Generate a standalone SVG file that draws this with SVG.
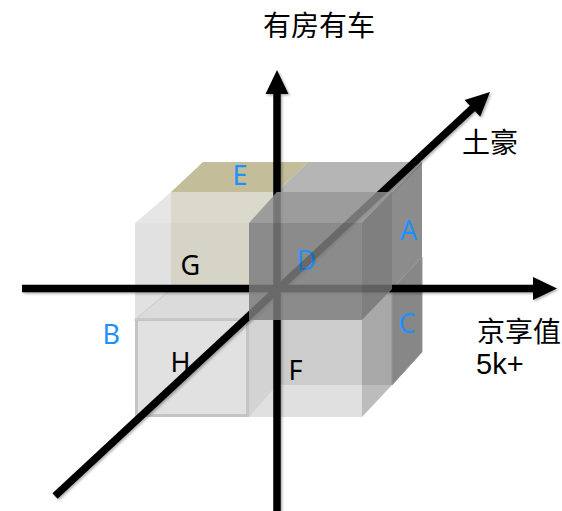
<svg xmlns="http://www.w3.org/2000/svg" width="562" height="511" viewBox="0 0 562 511">
<style>
  .lbl{font-family:"Noto Sans","Open Sans","DejaVu Sans",sans-serif;font-size:27px}
  .blue{fill:#1e90ff}
  .blk{fill:#000}
  .cjk{font-family:"Noto Sans CJK SC","Noto Sans",sans-serif;font-size:28px;fill:#000}
  .num{font-family:"Liberation Sans","Noto Sans",sans-serif;font-size:29px;fill:#000}
  .ax{stroke:#000;stroke-width:7.5;fill:none}
  .ah{fill:#000}
</style>
<defs>
  <filter id="sh" filterUnits="userSpaceOnUse" x="0" y="0" width="562" height="511">
    <feDropShadow dx="1.5" dy="1.5" stdDeviation="1.2" flood-color="#000" flood-opacity="0.3"/>
  </filter>
  <mask id="dm" maskUnits="userSpaceOnUse" x="0" y="0" width="562" height="511">
    <path fill="#fff" fill-rule="evenodd" d="M0,0H562V511H0Z M249,223L277,192L392,192L392,289L362,320L249,320Z"/>
    <path fill="#fff" fill-opacity="0.24" d="M249,223L277,192L392,192L392,289L362,320L249,320Z"/>
  </mask>
</defs>
<rect width="562" height="511" fill="#fff"/>

<g id="E">
  <polygon points="171,192 203,162 308,162 277,192" fill="#c4bd99"/>
  <rect x="171" y="192" width="106" height="97" fill="#e3dbbd"/>
  <text class="lbl blue" x="232.6" y="185">E</text>
</g>
<g id="A">
  <polygon points="277,192 308,162 422,162 392,192" fill="#b5b5b5"/>
  <polygon points="392,192 422,162 422,257 392,289" fill="#8c8c8c"/>
  <rect x="277" y="192" width="115" height="97" fill="#8c8c8c"/>
  <text class="lbl blue" x="400" y="240">A</text>
</g>
<g id="B">
  <text class="lbl blue" x="102.6" y="344">B</text>
</g>
<g id="C">
  <rect x="277" y="289" width="115" height="96" fill="#cccccc"/>
  <polygon points="392,289 422,257 422,352 392,385" fill="#878787" stroke="#959595" stroke-width="1"/>
  <text class="lbl blue" x="398.5" y="333">C</text>
</g>
<g id="H">
  <polygon points="249,320 277,289 277,385 249,417" fill="#dedede"/>
  <polygon points="135,320 171,289 277,289 249,320" fill="#f0f0f0" stroke="#d2d2d2" stroke-width="1.2"/>
  <rect x="136.5" y="319.5" width="111" height="96" fill="#e1e1e1" stroke="#c4c4c4" stroke-width="3"/>
  <text class="lbl blk" x="170.6" y="372">H</text>
</g>
<g id="F">
  <rect x="249" y="320" width="113" height="97" fill="#cbcbcb" fill-opacity="0.6"/>
  <polygon points="362,320 392,289 392,385 362,417" fill="#8f8f8f" fill-opacity="0.6"/>
  <text class="lbl blk" x="288.6" y="380">F</text>
</g>
<g id="G">
  <polygon points="135,223 171,192 277,192 249,223" fill="#d5d5d5" fill-opacity="0.6"/>
  <rect x="135" y="223" width="114" height="97" fill="#cdcdcd" fill-opacity="0.6"/>
  <text class="lbl blk" x="180.5" y="275">G</text>
</g>
<g id="D">
  <polygon points="249,223 277,192 392,192 362,223" fill="#9c9c9c"/>
  <polygon points="362,223 392,192 392,289 362,320" fill="#7f7f7f"/>
  <rect x="249" y="223" width="113" height="97" fill="#8b8b8b"/>
  <text class="lbl blue" x="296.6" y="270">D</text>
</g>

<g id="axes" mask="url(#dm)">
  <g filter="url(#sh)">
    <line class="ax" x1="277" y1="511" x2="277" y2="88"/>
    <polygon class="ah" points="277,70 288.5,94 265.5,94"/>
    <line class="ax" x1="22" y1="288.5" x2="540" y2="288.5"/>
    <polygon class="ah" points="557,288.5 533,277 533,300"/>
    <line class="ax" x1="55" y1="496" x2="476" y2="105"/>
    <polygon class="ah" points="490,92 480.2,116.7 464.6,99.9"/>
  </g>
</g>

<g id="titles">
  <text class="cjk" x="263" y="36">有房有车</text>
  <text class="cjk" x="462" y="153">土豪</text>
  <text class="cjk" x="477" y="342">京享值</text>
  <text class="num" x="476" y="374">5k+</text>
</g>
</svg>
